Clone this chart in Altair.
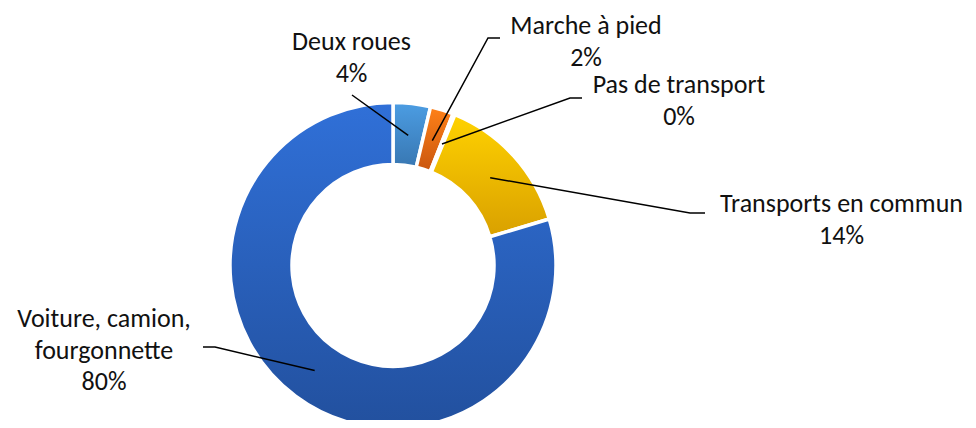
import altair as alt

# ---- data ----
categories = ["Deux roues", "Marche à pied", "Pas de transport",
              "Transports en commun", "Voiture, camion, fourgonnette"]
label_text = ["Deux roues", "Marche à pied", "Pas de transport",
              "Transports en commun", "Voiture, camion,|fourgonnette"]
values = [3.7, 2.3, 0.2, 14.2, 79.6]

# ---- layout (pixel positions in the chart area) ----
CX, CY = 385, 257.5
R_OUT, R_IN, R_LEAD = 163, 101, 131
LINE_H = 31.5
label_x = [343.5, 578, 671, 833.5, 96]
label_y = [42, 26, 85, 204, 319]
leader_x = [[None, 344], [None, 480, 492], [None, 562, 574], [None, 682, 697], [None, 207, 195]]
leader_y = [[None, 87], [None, 30, 30], [None, 90, 90], [None, 205, 205], [None, 339, 339]]

# ---- styles ----
tops = ["#4C9DE3", "#FF8118", "#FFB020", "#FFD200", "#3070D8"]
bottoms = ["#3877B2", "#C9560F", "#D08A10", "#D9A000", "#22509E"]
FONT = "Carlito, Calibri, Lato, sans-serif"


def grad(t, b):
    return {"gradient": "linear", "x1": 0, "y1": 0, "x2": 0, "y2": 1,
            "stops": [{"offset": 0, "color": t}, {"offset": 1, "color": b}]}


rows = []
for i, c in enumerate(categories):
    rows.append({
        "i": i, "cat": c, "name": label_text[i], "value": values[i],
        "lx0": label_x[i], "ly0": label_y[i],
        "lx": leader_x[i], "ly": leader_y[i],
        "seq": list(range(len(leader_x[i]))),
    })

data = alt.Data(values=rows)

base = (alt.Chart(data)
        .transform_joinaggregate(total="sum(value)")
        .transform_window(cum="sum(value)", sort=[alt.SortField("i")], frame=[None, 0])
        .transform_calculate(t0="(datum.cum - datum.value) / datum.total",
                             t1="datum.cum / datum.total"))

conds = [{"test": f"datum.i === {k}", "value": grad(tops[k], bottoms[k])} for k in range(4)]

arcs = base.mark_arc(innerRadius=R_IN, outerRadius=R_OUT, stroke="white",
                     strokeWidth=3.5).encode(
    theta=alt.Theta("t0:Q", scale=alt.Scale(domain=[0, 1])),
    theta2="t1:Q",
    x=alt.value(CX),
    y=alt.value(CY),
    color=alt.value(grad(tops[4], bottoms[4]), condition=conds),
)

lines = (base
         .transform_calculate(a="(datum.t0 + datum.t1) / 2")
         .transform_calculate(ax=f"{CX} + {R_LEAD} * sin(2 * PI * datum.a)",
                              ay=f"{CY} - {R_LEAD} * cos(2 * PI * datum.a)")
         .transform_flatten(["lx", "ly", "seq"])
         .transform_calculate(px="isValid(datum.lx) ? datum.lx : datum.ax",
                              py="isValid(datum.ly) ? datum.ly : datum.ay")
         .mark_line(color="black", strokeWidth=1.5)
         .encode(x=alt.X("px:Q", scale=None, axis=None),
                 y=alt.Y("py:Q", scale=None, axis=None),
                 detail="cat:N",
                 order="seq:Q"))

texts = (base
         .transform_calculate(pct="format(datum.value / datum.total, '.0%')")
         .transform_calculate(lines="split(datum.name + '|' + datum.pct, '|')")
         .transform_flatten(["lines"])
         .transform_window(idx="row_number()", groupby=["cat"])
         .transform_calculate(tx="datum.lx0",
                              ty=f"datum.ly0 + (datum.idx - 1) * {LINE_H}")
         .mark_text(font=FONT, fontSize=26, color="#111111", align="center",
                    baseline="alphabetic")
         .encode(x=alt.X("tx:Q", scale=None, axis=None),
                 y=alt.Y("ty:Q", scale=None, axis=None),
                 text="lines:N"))

chart = (alt.layer(arcs, lines, texts)
         .properties(width=960, height=412, padding=0, autosize="none")
         .configure_view(stroke=None))

chart.save("out.html", embed_options={"renderer": "svg", "actions": False})
